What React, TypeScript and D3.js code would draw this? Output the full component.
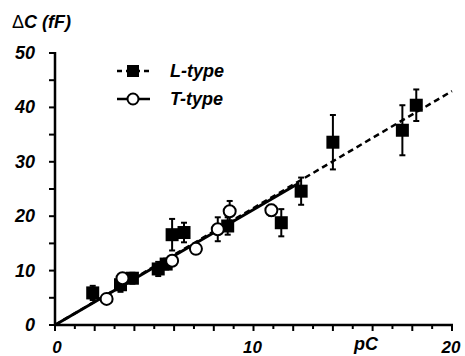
import * as d3 from "d3";

// L-type: [pC, ΔC, sem]
const lType: [number, number, number][] = [
  [1.9, 5.9, 1.3],
  [3.3, 7.4, 1.3],
  [3.9, 8.6, 1.0],
  [5.2, 10.3, 1.3],
  [5.6, 11.2, 1.0],
  [5.9, 16.6, 2.9],
  [6.5, 17.0, 1.8],
  [8.7, 18.2, 1.6],
  [11.4, 18.8, 2.5],
  [12.4, 24.6, 2.5],
  [14.0, 33.6, 5.0],
  [17.5, 35.8, 4.6],
  [18.2, 40.4, 2.9],
];

const tType: [number, number, number][] = [
  [2.6, 4.8, 0],
  [3.4, 8.6, 0.6],
  [5.9, 11.8, 0.8],
  [7.1, 14.0, 0.8],
  [8.2, 17.6, 2.2],
  [8.8, 20.9, 1.9],
  [10.9, 21.1, 1.0],
];

const lFit = [[0, 0], [20, 43]];
const tFit = [[0, 0], [12.3, 26.1]];

const xLabels = [0, 10, 20];
const yLabels = [0, 10, 20, 30, 40, 50];

const W = 465;
const H = 356;
const FONT = "'Liberation Sans', Arial, sans-serif";

export default function App() {
  const x = d3.scaleLinear().domain([0, 20]).range([55, 452]);
  const y = d3.scaleLinear().domain([0, 50]).range([325, 53]);
  const line = d3
    .line<number[]>()
    .x((d) => x(d[0]))
    .y((d) => y(d[1]));

  const errBar = (d: [number, number, number], i: number, key: string) =>
    d[2] > 0 ? (
      <g key={key + i} stroke="#000" strokeWidth={2}>
        <line x1={x(d[0])} x2={x(d[0])} y1={y(d[1] - d[2])} y2={y(d[1] + d[2])} />
        <line x1={x(d[0]) - 3} x2={x(d[0]) + 3} y1={y(d[1] + d[2])} y2={y(d[1] + d[2])} />
        <line x1={x(d[0]) - 3} x2={x(d[0]) + 3} y1={y(d[1] - d[2])} y2={y(d[1] - d[2])} />
      </g>
    ) : null;

  return (
    <svg
      width={W}
      height={H}
      style={{ position: "absolute", left: 0, top: 0, background: "#fff" }}
      fontFamily={FONT}
    >
      {/* axes */}
      <g stroke="#000" strokeWidth={2.5} fill="none">
        <line x1={x(0)} x2={x(0)} y1={y(0) + 1} y2={y(50) - 1} />
        <line x1={x(0) - 1} x2={x(20) + 1} y1={y(0)} y2={y(0)} />
      </g>
      <g stroke="#000" strokeWidth={2}>
        {d3.range(0, 51, 5).map((v) => (
          <line key={"yt" + v} x1={x(0) - 6} x2={x(0)} y1={y(v)} y2={y(v)} />
        ))}
        {d3.range(0, 21, 1).map((v) => (
          <line key={"xt" + v} x1={x(v)} x2={x(v)} y1={y(0)} y2={y(0) + (v % 2 === 0 ? 6 : 4)} />
        ))}
      </g>
      <g fontSize={18} fontWeight="bold" fontStyle="italic" fill="#000">
        {yLabels.map((v) => (
          <text key={"yl" + v} x={35} y={y(v) + 6} textAnchor="end">
            {v}
          </text>
        ))}
        {xLabels.map((v) => (
          <text key={"xl" + v} x={x(v) + (v === 0 ? 2 : -1)} y={353} fontSize={17} textAnchor="middle">
            {v}
          </text>
        ))}
        <text x={366} y={350} textAnchor="middle">pC</text>
        <text x={12} y={28}>
          <tspan fontWeight="normal" fontStyle="normal">Δ</tspan>
          <tspan>C (fF)</tspan>
        </text>
      </g>

      {/* fits */}
      <path d={line(lFit) ?? ""} fill="none" stroke="#000" strokeWidth={2.5} strokeDasharray="6,4" />
      <path d={line(tFit) ?? ""} fill="none" stroke="#000" strokeWidth={3} />

      {/* error bars */}
      {lType.map((d, i) => errBar(d, i, "le"))}
      {tType.map((d, i) => errBar(d, i, "te"))}

      {/* markers */}
      {lType.map((d, i) => (
        <rect key={"l" + i} x={x(d[0]) - 6.5} y={y(d[1]) - 6.5} width={13} height={13} fill="#000" />
      ))}
      {tType.map((d, i) => (
        <circle key={"t" + i} cx={x(d[0])} cy={y(d[1])} r={6} fill="#fff" stroke="#000" strokeWidth={2} />
      ))}

      {/* legend */}
      <g>
        <line x1={117} x2={150} y1={71} y2={71} stroke="#000" strokeWidth={2.5} strokeDasharray="5,4" />
        <rect x={127} y={65} width={12} height={12} fill="#000" />
        <line x1={117} x2={150} y1={99} y2={99} stroke="#000" strokeWidth={2.5} />
        <circle cx={133} cy={99} r={5.5} fill="#fff" stroke="#000" strokeWidth={2} />
        <g fontSize={18} fontWeight="bold" fontStyle="italic">
          <text x={170} y={77}>L-type</text>
          <text x={170} y={105}>T-type</text>
        </g>
      </g>
    </svg>
  );
}
